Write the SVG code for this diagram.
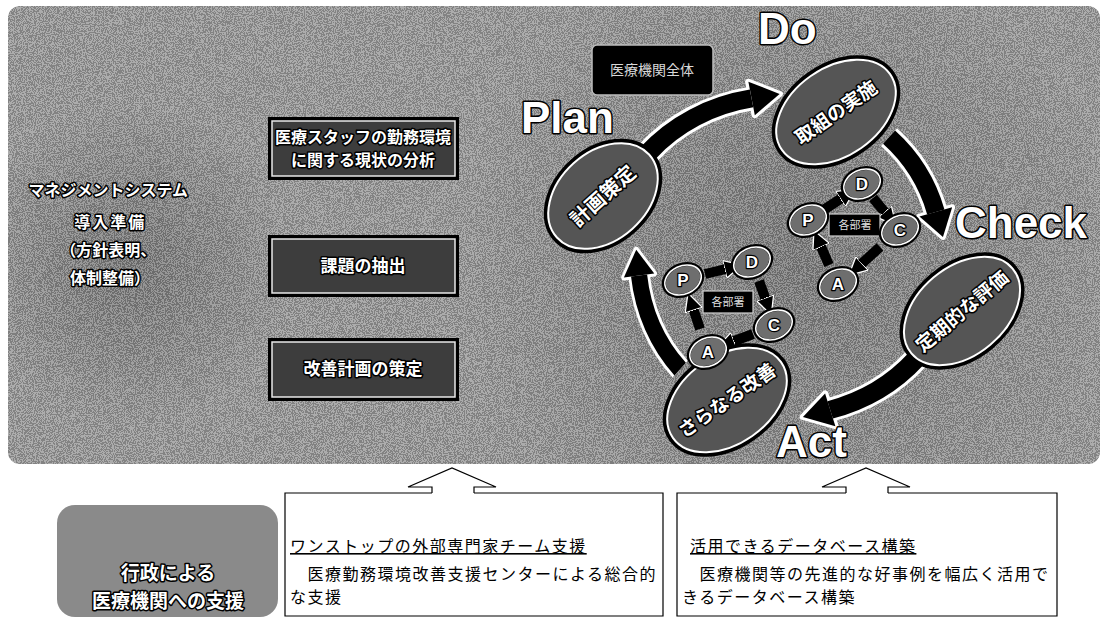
<svg xmlns="http://www.w3.org/2000/svg" width="1106" height="618" viewBox="0 0 1106 618">
<defs>
<style>
.jp{font-family:"Noto Sans CJK JP","Liberation Sans",sans-serif}
.wt{fill:#fff;stroke:#000;stroke-width:3;paint-order:stroke;stroke-linejoin:round;font-weight:bold}
.big{font-family:"Liberation Sans",Arial,sans-serif;font-weight:bold;font-size:44px;fill:#fff;stroke:#000;stroke-width:3;paint-order:stroke;stroke-linejoin:round}
.ltr{font-family:"Liberation Sans",Arial,sans-serif;font-weight:bold;font-size:17px;fill:#fff;stroke:#000;stroke-width:2.5;paint-order:stroke;stroke-linejoin:round}
.el{fill:#555;stroke:#000;stroke-width:5}
.elw{fill:none;stroke:#fff;stroke-width:2}
.sm{fill:#6e6e6e;stroke:#000;stroke-width:4}
.smw{fill:none;stroke:#fff;stroke-width:1.6}
.bx{fill:#3d3d3d;stroke:#000;stroke-width:4}
.bxw{fill:none;stroke:#e8e8e8;stroke-width:1.5}
.arcw{fill:none;stroke:#fff;stroke-width:24}
.arck{fill:none;stroke:#000;stroke-width:18}
.hw{fill:#fff;stroke:#fff;stroke-width:6;stroke-linejoin:round}
.hk{fill:#000}
.sa{stroke:#000;stroke-width:10}
.bt{font-size:16px;fill:#000;letter-spacing:1.5px}
.lbl{fill:#000;stroke:#cfcfcf;stroke-width:1.2}
</style>
<marker id="ah" viewBox="0 0 10 10" refX="3" refY="5" markerWidth="18" markerHeight="18" markerUnits="userSpaceOnUse" orient="auto">
<path d="M0,0 L10,5 L0,10 z" fill="#000" stroke="#fff" stroke-width="0.7"/>
</marker>
<clipPath id="pc"><rect x="8" y="6" width="1092" height="458" rx="12"/></clipPath>
<radialGradient id="g1" cx="790" cy="260" r="330" gradientUnits="userSpaceOnUse">
<stop offset="0" stop-color="#3a3a3a" stop-opacity="0.3"/>
<stop offset="1" stop-color="#3a3a3a" stop-opacity="0"/>
</radialGradient>
<radialGradient id="g2" cx="130" cy="265" r="160" gradientUnits="userSpaceOnUse">
<stop offset="0" stop-color="#404040" stop-opacity="0.35"/>
<stop offset="1" stop-color="#404040" stop-opacity="0"/>
</radialGradient>
<filter id="nz" x="0" y="0" width="100%" height="100%">
<feTurbulence type="fractalNoise" baseFrequency="0.9" numOctaves="2" seed="7"/>
<feColorMatrix type="saturate" values="0"/>
<feComponentTransfer><feFuncR type="discrete" tableValues="0 0 1 1"/><feFuncG type="discrete" tableValues="0 0 1 1"/><feFuncB type="discrete" tableValues="0 0 1 1"/><feFuncA type="linear" slope="0" intercept="1"/></feComponentTransfer>
</filter>
</defs>

<rect width="1106" height="618" fill="#fff"/>

<g id="panel">
<rect x="8" y="6" width="1092" height="458" rx="12" fill="#9c9c9c"/>
<g clip-path="url(#pc)">
<rect x="8" y="6" width="1092" height="458" fill="url(#g1)"/>
<rect x="8" y="6" width="1092" height="458" fill="url(#g2)"/>
<rect x="8" y="6" width="1092" height="458" filter="url(#nz)" opacity="0.16"/>
</g>
</g>

<g id="mgmt-prep">
<text class="jp wt" font-size="16" text-anchor="middle">
<tspan x="110" y="196">マネジメントシステム</tspan>
<tspan x="112" y="228" letter-spacing="2">導入準備</tspan>
<tspan x="110" y="256">（方針表明、</tspan>
<tspan x="110" y="284">体制整備）</tspan>
</text>
</g>

<g id="step-analysis">
<rect class="bx" x="270" y="119" width="187" height="59"/>
<rect class="bxw" x="272" y="121" width="183" height="55"/>
<text class="jp wt" font-size="16" text-anchor="middle"><tspan x="363" y="143">医療スタッフの勤務環境</tspan><tspan x="363" y="166">に関する現状の分析</tspan></text>
</g>
<g id="step-issues">
<rect class="bx" x="270" y="237" width="187" height="58"/>
<rect class="bxw" x="272" y="239" width="183" height="54"/>
<text class="jp wt" font-size="17" text-anchor="middle" x="363" y="272">課題の抽出</text>
</g>
<g id="step-plan">
<rect class="bx" x="270" y="340" width="187" height="59"/>
<rect class="bxw" x="272" y="342" width="183" height="55"/>
<text class="jp wt" font-size="17" text-anchor="middle" x="363" y="375">改善計画の策定</text>
</g>

<g id="whole-label">
<rect x="592" y="45" width="121" height="50" rx="5" fill="#000" stroke="#bdbdbd" stroke-width="1.5"/>
<text class="jp" font-size="14" fill="#d8d8d8" text-anchor="middle" x="652" y="75">医療機関全体</text>
</g>

<g id="connectors">
<g transform="translate(782,256) scale(1.094,1) rotate(-140)"><path class="arcw" d="M160,0 A160,160 0 0 1 122.6,102.8"/><polygon class="hw" transform="rotate(40)" points="143,0 177,0 160,26"/></g>
<g transform="translate(782,256) rotate(-48)"><path class="arcw" d="M160,0 A160,160 0 0 1 135.7,84.8"/><polygon class="hw" transform="rotate(32)" points="143,0 177,0 160,26"/></g>
<g transform="translate(782,256) scale(1.094,1) rotate(40)"><path class="arcw" d="M160,0 A160,160 0 0 1 132.6,89.5"/><polygon class="hw" transform="rotate(34)" points="143,0 177,0 160,26"/></g>
<g transform="translate(782,256) scale(0.9,1) rotate(135)"><path class="arcw" d="M160,0 A160,160 0 0 1 126.1,98.5"/><polygon class="hw" transform="rotate(38)" points="143,0 177,0 160,26"/></g>
<g transform="translate(782,256) scale(1.094,1) rotate(-140)"><path class="arck" d="M160,0 A160,160 0 0 1 122.6,102.8"/><polygon class="hk" transform="rotate(40)" points="143,0 177,0 160,26"/></g>
<g transform="translate(782,256) rotate(-48)"><path class="arck" d="M160,0 A160,160 0 0 1 135.7,84.8"/><polygon class="hk" transform="rotate(32)" points="143,0 177,0 160,26"/></g>
<g transform="translate(782,256) scale(1.094,1) rotate(40)"><path class="arck" d="M160,0 A160,160 0 0 1 132.6,89.5"/><polygon class="hk" transform="rotate(34)" points="143,0 177,0 160,26"/></g>
<g transform="translate(782,256) scale(0.9,1) rotate(135)"><path class="arck" d="M160,0 A160,160 0 0 1 126.1,98.5"/><polygon class="hk" transform="rotate(38)" points="143,0 177,0 160,26"/></g>
<line class="sa" x1="705" y1="274" x2="730" y2="268" marker-end="url(#ah)"/>
<line class="sa" x1="759" y1="281" x2="767" y2="303" marker-end="url(#ah)"/>
<line class="sa" x1="753" y1="334" x2="729" y2="343" marker-end="url(#ah)"/>
<line class="sa" x1="700" y1="329" x2="692" y2="305" marker-end="url(#ah)"/>
<line class="sa" x1="825" y1="209" x2="845" y2="196" marker-end="url(#ah)"/>
<line class="sa" x1="873" y1="198" x2="888" y2="216" marker-end="url(#ah)"/>
<line class="sa" x1="880" y1="247" x2="858" y2="267" marker-end="url(#ah)"/>
<line class="sa" x1="829" y1="265" x2="819" y2="242" marker-end="url(#ah)"/>
<polyline points="432,493 432,487 408,487 452,468 496,487 474,487 474,493" fill="#fff" stroke="#000" stroke-width="1.2"/>
<polyline points="846,493 846,487 822,487 866,468 910,487 888,487 888,493" fill="#fff" stroke="#000" stroke-width="1.2"/>
</g>

<g id="stage-do">
<ellipse class="el" cx="836" cy="112" rx="68" ry="46" transform="rotate(-35 836 112)"/>
<ellipse class="elw" cx="836" cy="112" rx="66" ry="44" transform="rotate(-35 836 112)"/>
<text class="jp wt" font-size="19" text-anchor="middle" x="836" y="119" transform="rotate(-35 836 112)">取組の実施</text>
</g>
<g id="stage-plan">
<ellipse class="el" cx="603" cy="196" rx="64" ry="46" transform="rotate(-42 603 196)"/>
<ellipse class="elw" cx="603" cy="196" rx="62" ry="44" transform="rotate(-42 603 196)"/>
<text class="jp wt" font-size="20" text-anchor="middle" x="603" y="203" transform="rotate(-42 603 196)">計画策定</text>
</g>
<g id="stage-check">
<ellipse class="el" cx="962" cy="311" rx="68" ry="46" transform="rotate(-40 962 311)"/>
<ellipse class="elw" cx="962" cy="311" rx="66" ry="44" transform="rotate(-40 962 311)"/>
<text class="jp wt" font-size="19" text-anchor="middle" x="962" y="318" transform="rotate(-40 962 311)">定期的な評価</text>
</g>
<g id="stage-act">
<ellipse class="el" cx="727" cy="400" rx="68" ry="46" transform="rotate(-35 727 400)"/>
<ellipse class="elw" cx="727" cy="400" rx="66" ry="44" transform="rotate(-35 727 400)"/>
<text class="jp wt" font-size="19" text-anchor="middle" x="727" y="407" transform="rotate(-35 727 400)">さらなる改善</text>
</g>

<g id="phase-labels">
<text class="big" x="521" y="133" font-size="42">Plan</text>
<text class="big" x="758" y="44">Do</text>
<text class="big" x="955" y="238" font-size="48">Check</text>
<text class="big" x="776" y="457">Act</text>
</g>

<g id="cycle-left">
<rect class="lbl" x="703" y="291" width="50" height="22"/>
<text class="jp" font-size="11" fill="#ddd" text-anchor="middle" x="728" y="306">各部署</text>
<g transform="rotate(-25 683 280)"><ellipse class="sm" cx="683" cy="280" rx="20" ry="15"/><ellipse class="smw" cx="683" cy="280" rx="19" ry="14"/></g>
<text class="ltr" text-anchor="middle" x="683" y="286">P</text>
<g transform="rotate(-25 752 262)"><ellipse class="sm" cx="752" cy="262" rx="20" ry="15"/><ellipse class="smw" cx="752" cy="262" rx="19" ry="14"/></g>
<text class="ltr" text-anchor="middle" x="752" y="268">D</text>
<g transform="rotate(-25 774 325)"><ellipse class="sm" cx="774" cy="325" rx="20" ry="15"/><ellipse class="smw" cx="774" cy="325" rx="19" ry="14"/></g>
<text class="ltr" text-anchor="middle" x="774" y="331">C</text>
<g transform="rotate(-25 708 352)"><ellipse class="sm" cx="708" cy="352" rx="20" ry="15"/><ellipse class="smw" cx="708" cy="352" rx="19" ry="14"/></g>
<text class="ltr" text-anchor="middle" x="708" y="358">A</text>
</g>

<g id="cycle-right">
<rect class="lbl" x="829" y="214" width="51" height="22"/>
<text class="jp" font-size="11" fill="#ddd" text-anchor="middle" x="855" y="229">各部署</text>
<g transform="rotate(-25 808 220)"><ellipse class="sm" cx="808" cy="220" rx="20" ry="15"/><ellipse class="smw" cx="808" cy="220" rx="19" ry="14"/></g>
<text class="ltr" text-anchor="middle" x="808" y="226">P</text>
<g transform="rotate(-25 862 184)"><ellipse class="sm" cx="862" cy="184" rx="20" ry="15"/><ellipse class="smw" cx="862" cy="184" rx="19" ry="14"/></g>
<text class="ltr" text-anchor="middle" x="862" y="190">D</text>
<g transform="rotate(-25 900 230)"><ellipse class="sm" cx="900" cy="230" rx="20" ry="15"/><ellipse class="smw" cx="900" cy="230" rx="19" ry="14"/></g>
<text class="ltr" text-anchor="middle" x="900" y="236">C</text>
<g transform="rotate(-25 838 284)"><ellipse class="sm" cx="838" cy="284" rx="20" ry="15"/><ellipse class="smw" cx="838" cy="284" rx="19" ry="14"/></g>
<text class="ltr" text-anchor="middle" x="838" y="290">A</text>
</g>

<g id="gov-support">
<rect x="57" y="505" width="221" height="112" rx="18" fill="#8a8a8a"/>
<text class="jp wt" font-size="19" text-anchor="middle"><tspan x="168" y="580">行政による</tspan><tspan x="168" y="608">医療機関への支援</tspan></text>
</g>

<g id="support-onestop">
<path d="M432,493 H285 V616 H663 V493 H474" fill="#fff" stroke="#000" stroke-width="1.2"/>
<text class="jp bt" x="290" y="552" text-decoration="underline">ワンストップの外部専門家チーム支援</text>
<text class="jp bt" x="290" y="580">　医療勤務環境改善支援センターによる総合的</text>
<text class="jp bt" x="290" y="603">な支援</text>
</g>
<g id="support-database">
<path d="M846,493 H677 V616 H1057 V493 H888" fill="#fff" stroke="#000" stroke-width="1.2"/>
<text class="jp bt" x="690" y="552" text-decoration="underline">活用できるデータベース構築</text>
<text class="jp bt" x="682" y="580">　医療機関等の先進的な好事例を幅広く活用で</text>
<text class="jp bt" x="682" y="603">きるデータベース構築</text>
</g>
</svg>
